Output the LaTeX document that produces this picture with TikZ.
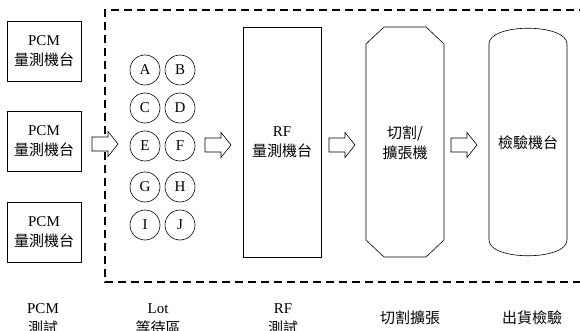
\documentclass[tikz,border=0pt]{standalone}
\usepackage{fontspec}
\setmainfont{Liberation Serif}
\newfontfamily\cjk{Noto Sans CJK TC}
\newcommand\blockarrow[2]{%
  \coordinate (#1) at #2;
  \draw[flow] ([shift={(-13,-7)}]#1) -- ([shift={(3,-7)}]#1) -- ([shift={(3,-12.5)}]#1)
    -- ([shift={(13,0)}]#1) -- ([shift={(3,12.5)}]#1) -- ([shift={(3,7)}]#1)
    -- ([shift={(-13,7)}]#1) -- cycle;}
\begin{document}
\begin{tikzpicture}[x=1pt,y=-1pt,
  station/.style={draw,line width=0.6pt,minimum width=74pt,minimum height=60pt,align=center,font=\fontsize{15}{20}\selectfont,inner sep=0pt},
  lot/.style={draw,circle,line width=0.6pt,minimum size=30pt,inner sep=0pt,font=\fontsize{15}{16}\selectfont},
  flow/.style={draw,fill=white,line width=0.6pt,line join=miter},
  zone/.style={draw,line width=2.2pt,dash pattern=on 8pt off 5pt},
  mach/.style={line width=0.6pt},
  lbl/.style={align=center,font=\fontsize{15}{20}\selectfont,inner sep=0pt}]
\useasboundingbox (0,0) rectangle (580,331);
\clip (0,0) rectangle (580,331);
\fill[white] (0,0) rectangle (580,331);
% dashed zone
\draw[zone] (600,10) -- (105,10) -- (105,282) -- (600,282);
% PCM stations
\node[station] (pcm1) at (44,51) {PCM\\{\cjk 量測機台}};
\node[station] (pcm2) at (44,141) {PCM\\{\cjk 量測機台}};
\node[station] (pcm3) at (44,232) {PCM\\{\cjk 量測機台}};
% lots
\node[lot] (A) at (145,70) {A};
\node[lot] (B) at (180,70) {B};
\node[lot] (C) at (145,108) {C};
\node[lot] (D) at (180,108) {D};
\node[lot] (E) at (145,146) {E};
\node[lot] (F) at (180,146) {F};
\node[lot] (G) at (145,187) {G};
\node[lot] (H) at (180,187) {H};
\node[lot] (I) at (145,225) {I};
\node[lot] (J) at (180,225) {J};
% RF station
\node[draw,mach,minimum width=78pt,minimum height=230pt,inner sep=0pt] (rf) at (282,142) {};
\node[lbl] (rft) at (282,142) {RF\\{\cjk 量測機台}};
% cutting/expanding machine (octagon)
\draw[mach] (384,27) -- (426,27) -- (444,44) -- (444,240) -- (426,257) -- (384,257) -- (366,240) -- (366,44) -- cycle;
\node[lbl] (cut) at (405,143) {\cjk 切割/\\\cjk 擴張機};
% inspection machine (capsule)
\draw[mach] (489,44) .. controls (489,23) and (567,23) .. (567,44) -- (567,240) .. controls (567,261) and (489,261) .. (489,240) -- cycle;
\node[lbl] (insp) at (528,143) {\cjk 檢驗機台};
% flow arrows
\blockarrow{ar1}{(105,144)}
\blockarrow{ar2}{(218,145)}
\blockarrow{ar3}{(342,145)}
\blockarrow{ar4}{(464,145)}
% bottom captions
\node[lbl] (c1) at (43,319) {PCM\\{\cjk 測試}};
\node[lbl] (c2) at (158,319) {Lot\\{\cjk 等待區}};
\node[lbl] (c3) at (283,319) {RF\\{\cjk 測試}};
\node[lbl] (c4) at (410,318) {\cjk 切割擴張};
\node[lbl] (c5) at (532,318) {\cjk 出貨檢驗};
\end{tikzpicture}
\end{document}
